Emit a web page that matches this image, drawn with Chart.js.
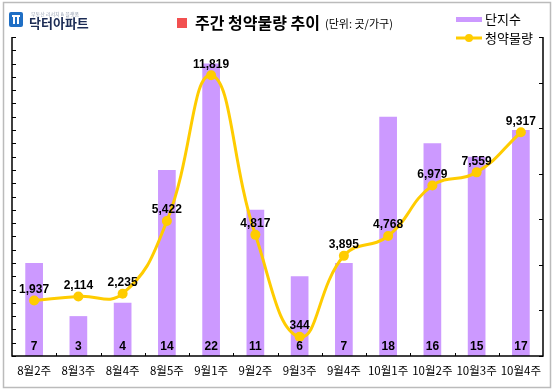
<!DOCTYPE html>
<html><head><meta charset="utf-8">
<script src="https://cdn.jsdelivr.net/npm/chart.js@4.4.1/dist/chart.umd.min.js"></script>
<style>html,body{margin:0;padding:0;background:#fff}#wrap{width:554px;height:391px}</style>
</head><body><div id="wrap"><canvas id="c" width="554" height="391"></canvas></div>
<script>
const categories = ['8월2주','8월3주','8월4주','8월5주','9월1주','9월2주','9월3주','9월4주','10월1주','10월2주','10월3주','10월4주'];
const complexCounts = [7,3,4,14,22,11,6,7,18,16,15,17];
const supplyUnits = [1937,2114,2235,5422,11819,4817,344,3895,4768,6979,7559,9317];
const leftAxis = {min:0, max:24, step:1};
const rightAxis = {min:-500, max:13500, step:2000};

const FONT = '"Noto Sans CJK KR", "Noto Sans", sans-serif';
const BOLD = 'Arial, "Liberation Sans", sans-serif';

const deco = {
  id:'deco',
  beforeDraw(chart){
    const ctx = chart.ctx;
    ctx.save();
    ctx.fillStyle='#fff'; ctx.fillRect(0,0,554,391);
    ctx.strokeStyle='#bbbbbb'; ctx.lineWidth=1.5;
    ctx.strokeRect(3.5,2.5,547,385);
    // logo
    ctx.fillStyle='#1f6fc5';
    ctx.beginPath(); ctx.roundRect(9,12,14,15,2); ctx.fill();
    ctx.fillStyle='#fff';
    ctx.fillRect(12,15,8,2); ctx.fillRect(13,16,2,8); ctx.fillRect(17,16,2,8);
    ctx.fillStyle='#9aa3b5'; ctx.font='5px '+FONT; ctx.textBaseline='middle';
    ctx.fillText('부동산 리서치 & 플랫폼',31,14);
    ctx.fillStyle='#1c2c55'; ctx.font='bold 13px '+FONT;
    ctx.fillText('닥터아파트',29,23);
    // title
    ctx.fillStyle='#f25050'; ctx.fillRect(177,18,10,10);
    ctx.fillStyle='#000'; ctx.font='bold 16px '+FONT;
    ctx.fillText('주간 청약물량 추이',195,23);
    const tw = ctx.measureText('주간 청약물량 추이').width;
    ctx.font='11px '+FONT;
    ctx.fillText('(단위: 곳/가구)',195+tw+5,24);
    // legend
    ctx.fillStyle='#cc99ff'; ctx.fillRect(456,17,26,5);
    ctx.fillStyle='#000'; ctx.font='13px '+FONT;
    ctx.fillText('단지수',485,19);
    ctx.strokeStyle='#ffcc00'; ctx.lineWidth=3;
    ctx.beginPath(); ctx.moveTo(456,38); ctx.lineTo(482,38); ctx.stroke();
    ctx.fillStyle='#ffcc00'; ctx.beginPath(); ctx.arc(469,38,4,0,Math.PI*2); ctx.fill();
    ctx.fillStyle='#000'; ctx.fillText('청약물량',485,38);
    ctx.restore();
  },
  afterDatasetsDraw(chart){
    const ctx = chart.ctx, a = chart.chartArea;
    const x = chart.scales.x, y = chart.scales.y, y1 = chart.scales.y1;
    ctx.save();
    ctx.strokeStyle='#000'; ctx.lineWidth=1.5;
    ctx.beginPath();
    ctx.moveTo(a.left,a.top); ctx.lineTo(a.left,a.bottom); ctx.lineTo(a.right,a.bottom); ctx.lineTo(a.right,a.top);
    ctx.stroke();
    ctx.lineWidth=1;
    ctx.beginPath();
    for(let v=leftAxis.min; v<=leftAxis.max; v+=leftAxis.step){
      const py=Math.round(y.getPixelForValue(v))+0.5;
      ctx.moveTo(a.left,py); ctx.lineTo(a.left+4,py);
    }
    for(let v=rightAxis.min; v<=rightAxis.max; v+=rightAxis.step){
      const py=Math.round(y1.getPixelForValue(v))+0.5;
      ctx.moveTo(a.right,py); ctx.lineTo(a.right-4,py);
    }
    for(let i=1;i<categories.length;i++){
      const px=Math.round((x.getPixelForValue(i-1)+x.getPixelForValue(i))/2)+0.5;
      ctx.moveTo(px,a.bottom); ctx.lineTo(px,a.bottom-3);
    }
    ctx.stroke();
    // x labels
    ctx.fillStyle='#000'; ctx.font='11.5px '+FONT; ctx.textAlign='center'; ctx.textBaseline='middle';
    categories.forEach((c,i)=>ctx.fillText(c,x.getPixelForValue(i),371));
    // bar labels
    ctx.font='bold 12px '+BOLD;
    const barMeta = chart.data.datasets.findIndex(d=>d.type==='bar');
    const lineMeta = chart.data.datasets.findIndex(d=>d.type==='line');
    chart.getDatasetMeta(barMeta).data.forEach((b,i)=>ctx.fillText(String(complexCounts[i]),b.x,347));
    // line labels
    chart.getDatasetMeta(lineMeta).data.forEach((p,i)=>ctx.fillText(supplyUnits[i].toLocaleString('en-US'),p.x,p.y-11));
    ctx.restore();
  }
};

new Chart(document.getElementById('c'),{
  data:{
    labels:categories,
    datasets:[
      {type:'line', label:'청약물량', data:supplyUnits, yAxisID:'y1', borderColor:'#ffcc00', backgroundColor:'#ffcc00',
       borderWidth:3, tension:0.45, pointRadius:5, pointBackgroundColor:'#ffcc00', pointBorderWidth:0, order:0},
      {type:'bar', label:'단지수', data:complexCounts, yAxisID:'y', backgroundColor:'#cc99ff',
       barPercentage:0.4, categoryPercentage:1, order:1}
    ]
  },
  options:{
    responsive:false, animation:false, devicePixelRatio:1,
    layout:{padding:{left:12,right:11,top:37,bottom:35}},
    plugins:{legend:{display:false}, tooltip:{enabled:false}},
    elements:{line:{capBezierPoints:false}},
    scales:{
      x:{type:'category', display:false, offset:true},
      y:{display:false, min:leftAxis.min, max:leftAxis.max},
      y1:{display:false, min:rightAxis.min, max:rightAxis.max, position:'right'}
    }
  },
  plugins:[deco]
});
</script></body></html>
